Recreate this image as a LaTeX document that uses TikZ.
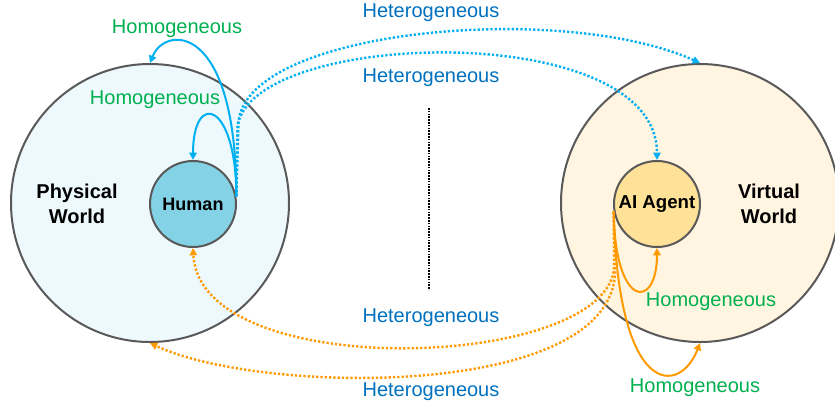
\documentclass[tikz,border=0pt]{standalone}
\usepackage{fontspec}
\setmainfont{Liberation Sans}
\usetikzlibrary{arrows.meta}
\definecolor{ringgray}{HTML}{595959}
\definecolor{pwfill}{HTML}{EEF9FD}
\definecolor{humanfill}{HTML}{84D2E5}
\definecolor{vwfill}{HTML}{FFF5E0}
\definecolor{aifill}{HTML}{FFE198}
\definecolor{arrblue}{HTML}{00B0F0}
\definecolor{arrorange}{HTML}{FF9900}
\definecolor{homgreen}{HTML}{00B050}
\definecolor{hetblue}{HTML}{0070C0}
\tikzset{
  world/.style={circle, draw=ringgray, line width=1.5pt, minimum size=278*0.75pt, inner sep=0pt},
  agent/.style={circle, draw=ringgray, line width=1.5pt, minimum size=86*0.75pt, inner sep=0pt, font=\bfseries\fontsize{13.5}{16}\selectfont},
  worldlabel/.style={font=\bfseries\fontsize{15}{18.75}\selectfont, align=center},
  homlabel/.style={text=homgreen, font=\fontsize{15}{18}\selectfont},
  hetlabel/.style={text=hetblue, font=\fontsize{15}{18}\selectfont},
  tip/.style={-{Triangle[length=5.5pt,width=5.5pt]}},
  solidarrow/.style={tip, line width=1.5pt},
  dotarrow/.style={tip, line width=1.8pt, dash pattern=on 1.7pt off 1.5pt},
}
\begin{document}
\begin{tikzpicture}[x=0.75pt, y=-0.75pt]
\useasboundingbox (0,0) rectangle (835,404);
% worlds
\node[world, fill=pwfill] (pw) at (150,203) {};
\node[world, fill=vwfill] (vw) at (700,203) {};
\node[agent, fill=humanfill] (human) at (193,204) {Human};
\node[agent, fill=aifill, font=\bfseries\fontsize{14}{16}\selectfont] (ai) at (657,204) {AI Agent};
\node[worldlabel] (pwl) at (77,204) {Physical\\World};
\node[worldlabel] (vwl) at (769,204) {Virtual\\World};
% divider
\coordinate (dtop) at (429,108);
\coordinate (dbot) at (429,290);
\draw[line width=1.2pt, dash pattern=on 1.2pt off 0.9pt] (dtop) -- (dbot);
% blue solid (homogeneous)
\draw[solidarrow, arrblue] (human.10) .. controls +(0,-95) and (193,90) .. (human.north);
\draw[solidarrow, arrblue] (human.10) .. controls +(0,-175) and (165,25) .. (pw.north);
% blue dotted (heterogeneous)
\draw[dotarrow, arrblue] (human.10) -- ++(1,-65) .. controls (236,30) and (657,15) .. (ai.north);
\draw[dotarrow, arrblue] (human.10) -- ++(2,-70) .. controls (237,30) and (560,0) .. (vw.north);
% orange solid (homogeneous)
\draw[solidarrow, arrorange] (ai.190) .. controls (615,310) and (657,310) .. (ai.south);
\draw[solidarrow, arrorange] (ai.190) .. controls (618,400) and (680,395) .. (vw.south);
% orange dotted (heterogeneous)
\draw[dotarrow, arrorange] (ai.190) -- ++(0.5,55) .. controls (610,370) and (200,385) .. (human.south);
\draw[dotarrow, arrorange] (ai.190) -- ++(1.5,60) .. controls (612,400) and (260,395) .. (pw.south);
% labels
\node[homlabel] (h1) at (177,29) {Homogeneous};
\node[homlabel] (h2) at (155,100) {Homogeneous};
\node[homlabel] (h3) at (711,302) {Homogeneous};
\node[homlabel] (h4) at (695,388) {Homogeneous};
\node[hetlabel] (e1) at (431,13) {Heterogeneous};
\node[hetlabel] (e2) at (431,78) {Heterogeneous};
\node[hetlabel] (e3) at (431,318) {Heterogeneous};
\node[hetlabel] (e4) at (431,392) {Heterogeneous};
\end{tikzpicture}
\end{document}
